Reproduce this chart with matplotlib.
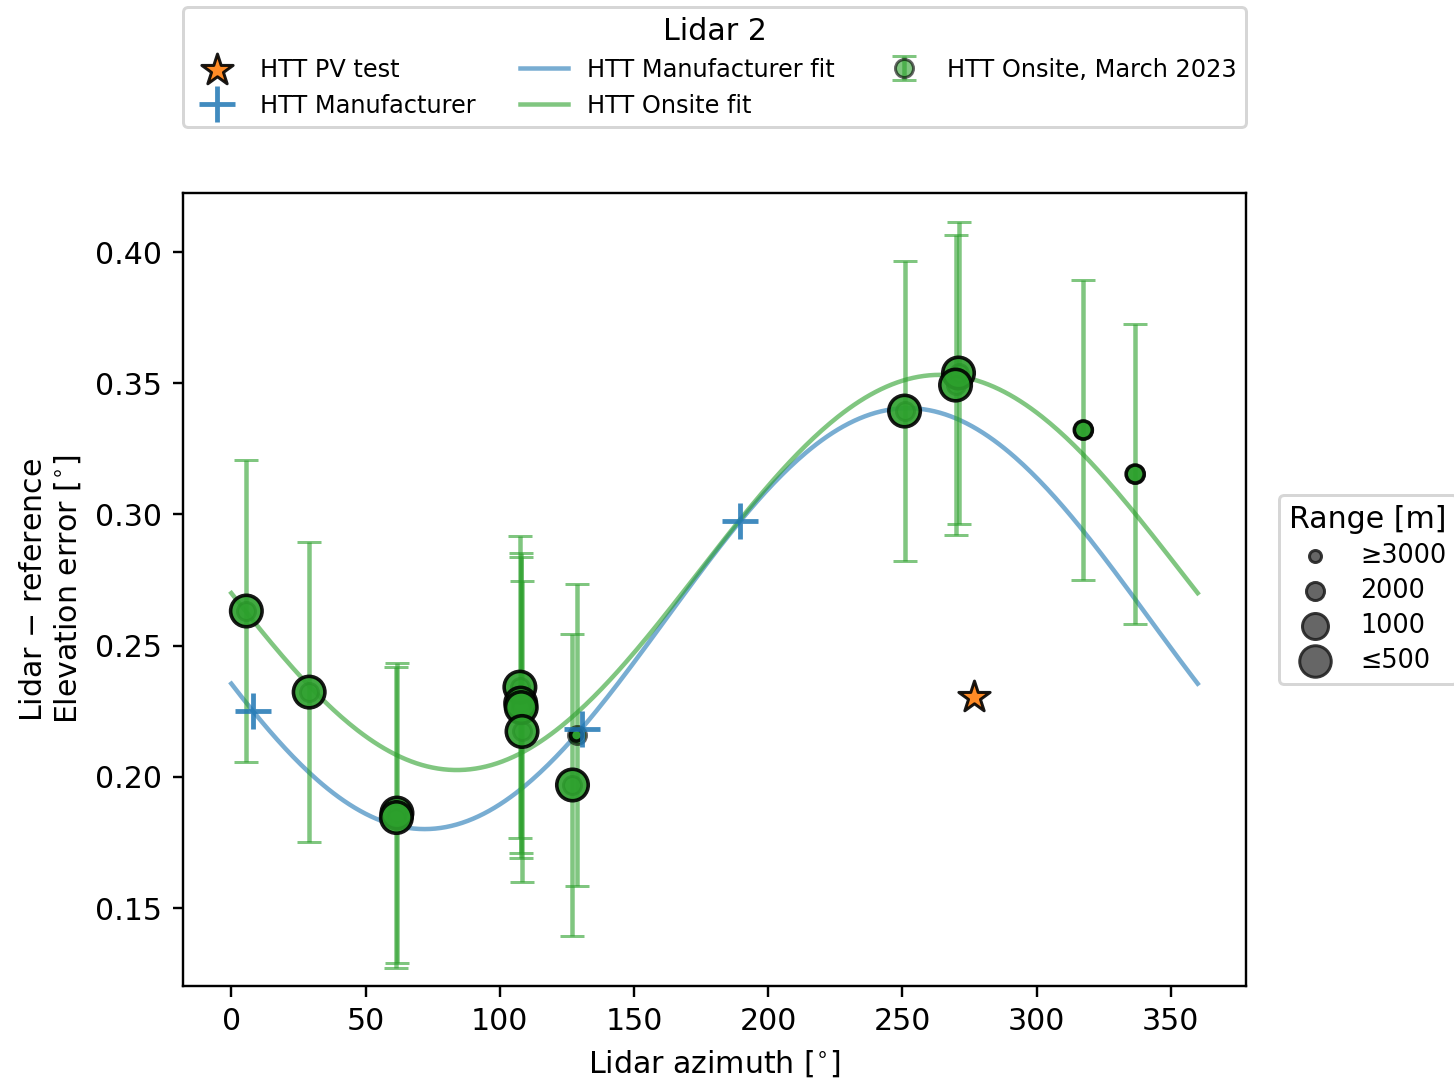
import matplotlib
matplotlib.use('Agg')
import matplotlib.pyplot as plt
import numpy as np

# HTT onsite campaign, March 2023
onsite_az = [5.6, 29.0, 61.7, 61.5, 107.5, 107.8, 108.0, 108.3, 127.1, 128.6, 250.8, 270.9, 269.8, 317.4, 336.7]
onsite_err = [0.2632, 0.2323, 0.1862, 0.1845, 0.2342, 0.2281, 0.2264, 0.2173, 0.1969, 0.2159, 0.3394, 0.3539, 0.3493, 0.3322, 0.3154]
onsite_unc = [0.0574, 0.0572, 0.0573, 0.0573, 0.0575, 0.0572, 0.0574, 0.0573, 0.0574, 0.0575, 0.0572, 0.0574, 0.0573, 0.0572, 0.0572]
onsite_range = [500, 500, 500, 500, 500, 500, 500, 500, 500, 3000, 500, 500, 500, 2000, 2000]

# manufacturer points
manu_az = [8.0, 130.8, 189.5]
manu_err = [0.2251, 0.2182, 0.2975]

# PV test
pv_az = [276.5]
pv_err = [0.2304]

# sinusoidal fits: offset, amplitude, azimuth of maximum
manu_fit = (0.2603, 0.0802, 252.0)
onsite_fit = (0.2779, 0.0753, 264.0)

# size legend
range_levels = [3000, 2000, 1000, 500]
range_labels = ['≥3000', '2000', '1000', '≤500']
range_sizes = [16, 36, 75, 110]


def size_of(r):
    return np.interp(r, range_levels[::-1], range_sizes[::-1])


def sine_fit(az, p):
    return p[0] + p[1] * np.cos(np.deg2rad(az - p[2]))


fig = plt.figure(figsize=(1454 / 216, 1079 / 216), dpi=216)
ax = fig.add_axes([183 / 1454, 1 - 986 / 1079, (1246 - 183) / 1454, (986 - 193) / 1079])

az = np.linspace(0, 360, 361)

h_pv = ax.scatter(pv_az, pv_err, marker='*', s=120, color='tab:orange', edgecolor='k',
                  linewidth=1, alpha=0.9, zorder=5)
h_manu, = ax.plot(manu_az, manu_err, '+', color='tab:blue', ms=12, mew=1.6,
                  alpha=0.85, zorder=4)
h_mfit, = ax.plot(az, sine_fit(az, manu_fit), color='tab:blue', alpha=0.6, lw=1.5)
h_ofit, = ax.plot(az, sine_fit(az, onsite_fit), color='tab:green', alpha=0.6, lw=1.5)

h_on = ax.errorbar(onsite_az, onsite_err, yerr=onsite_unc, fmt='o', ms=6,
                   mfc='tab:green', mec='k', ecolor='tab:green', capsize=4,
                   elinewidth=1.5, alpha=0.6, zorder=2)
ax.scatter(onsite_az, onsite_err, s=size_of(np.array(onsite_range)), color='tab:green',
           edgecolor='k', linewidth=1.2, alpha=0.9, zorder=3)

ax.set_xlim(-18, 378)
ax.set_ylim(0.1203, 0.4225)
ax.set_xticks([0, 50, 100, 150, 200, 250, 300, 350])
ax.set_yticks([0.15, 0.20, 0.25, 0.30, 0.35, 0.40])
ax.set_xlabel('Lidar azimuth [$^{\\circ}$]')
ax.set_ylabel('Lidar $-$ reference\nElevation error [$^{\\circ}$]')

leg1 = ax.legend([h_pv, h_manu, h_mfit, h_ofit, h_on],
                 ['HTT PV test', 'HTT Manufacturer', 'HTT Manufacturer fit',
                  'HTT Onsite fit', 'HTT Onsite, March 2023'],
                 title='Lidar 2', ncol=3, loc='lower left', mode='expand',
                 bbox_to_anchor=(0, 1.083, 1, 0.2), borderaxespad=0,
                 fontsize=8, title_fontsize=10)
ax.add_artist(leg1)

size_handles = [ax.scatter([], [], s=s, color='#555555', edgecolor='#222222',
                           alpha=0.9) for s in range_sizes]
ax.legend(size_handles, range_labels, title='Range [m]', loc='center left',
          bbox_to_anchor=(1.031, 0.5), borderaxespad=0, fontsize=8.5,
          title_fontsize=10, labelspacing=0.35)

fig.savefig('out.png', dpi=216)
